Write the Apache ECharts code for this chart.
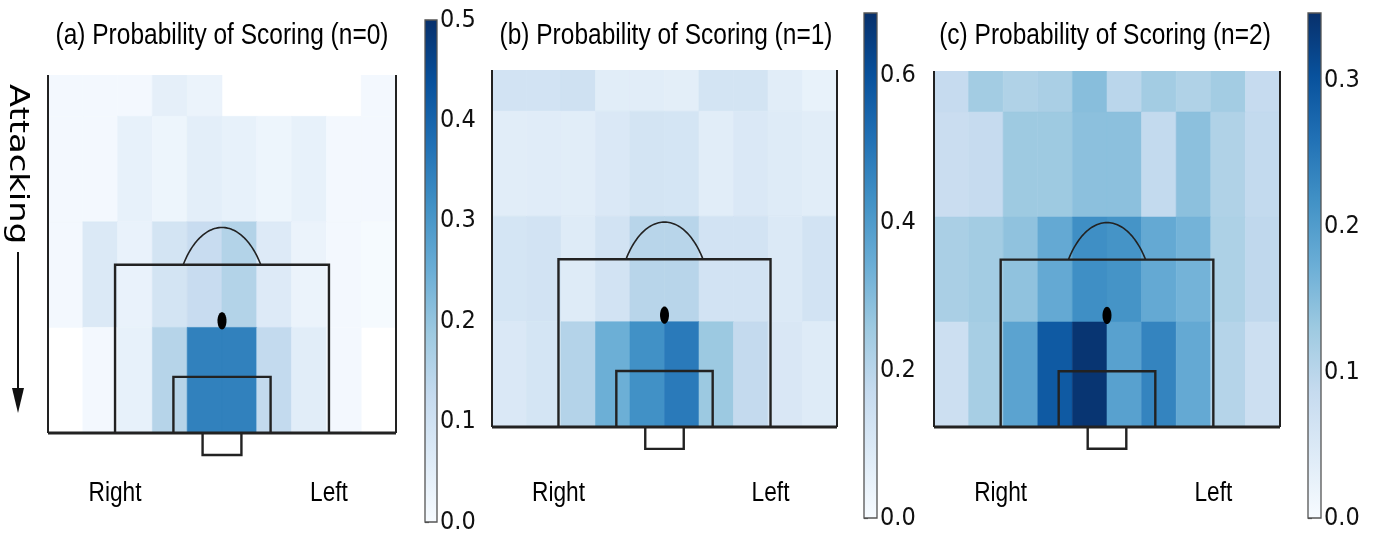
<!DOCTYPE html>
<html>
<head>
<meta charset="utf-8">
<script src="https://cdn.jsdelivr.net/npm/echarts@6/dist/echarts.min.js"></script>
<style>
  html, body { margin: 0; padding: 0; background: #ffffff; }
  #chart { width: 1379px; height: 537px; }
</style>
</head>
<body>
<div id="chart"></div>
<script>
// Probability of scoring per pitch zone (10 columns, right-to-left from the attacker's view).
// Rows run from the far edge (top, only partly visible) down to the goal line; null = no shots.
const PROB_N0 = [
  [0.010, 0.010, 0.010, 0.045, 0.030, null,  null,  null,  null,  0.010],
  [0.010, 0.010, 0.040, 0.025, 0.050, 0.040, 0.025, 0.040, 0.010, 0.010],
  [0.010, 0.070, 0.035, 0.090, 0.120, 0.155, 0.065, 0.030, 0.010, 0.005],
  [null,  0.010, 0.040, 0.150, 0.345, 0.345, 0.130, 0.055, 0.010, null ]
];
const PROB_N1 = [
  [0.130, 0.130, 0.140, 0.075, 0.075, 0.070, 0.125, 0.125, 0.075, 0.050],
  [0.075, 0.080, 0.075, 0.100, 0.125, 0.120, 0.075, 0.100, 0.085, 0.075],
  [0.120, 0.130, 0.085, 0.130, 0.200, 0.200, 0.130, 0.130, 0.095, 0.130],
  [0.100, 0.120, 0.210, 0.340, 0.430, 0.490, 0.260, 0.175, 0.105, 0.085]
];
const PROB_N2 = [
  [0.086, 0.124, 0.110, 0.117, 0.148, 0.100, 0.124, 0.110, 0.124, 0.086],
  [0.080, 0.086, 0.130, 0.130, 0.145, 0.145, 0.090, 0.145, 0.110, 0.090],
  [0.117, 0.124, 0.142, 0.180, 0.220, 0.213, 0.180, 0.165, 0.113, 0.093],
  [0.075, 0.120, 0.190, 0.290, 0.340, 0.193, 0.235, 0.180, 0.105, 0.075]
];
const PANEL_DATA = [PROB_N0, PROB_N1, PROB_N2];

const TITLES = [
  '(a) Probability of Scoring (n=0)',
  '(b) Probability of Scoring (n=1)',
  '(c) Probability of Scoring (n=2)'
];
const SIDE_LABELS = ['Right', 'Left'];
const DIRECTION_LABEL = 'Attacking';

// Colour-bar ranges and tick values
const CBAR_MAX = [0.5, 0.684, 0.346];
const CBAR_TICKS = [
  [0.0, 0.1, 0.2, 0.3, 0.4, 0.5],
  [0.0, 0.2, 0.4, 0.6],
  [0.0, 0.1, 0.2, 0.3]
];

// Sequential "Blues" palette
const BLUES = ['#f7fbff', '#deebf7', '#c6dbef', '#9ecae1', '#6baed6',
               '#4292c6', '#2171b5', '#08519c', '#08306b'];

// Pitch geometry in metres (x measured from the centre line, y from the goal line)
const PITCH = {
  halfW: 32.8, top: 35.1, rowH: 10.35, cols: 10,
  boxHalfW: 20.16, boxD: 16.5,
  sixHalfW: 9.16, sixD: 5.5,
  goalHalfW: 3.66, goalD: 2.15,
  spotY: 11, arcR: 9.15, spotR: 0.85
};
const COL_W = 2 * PITCH.halfW / PITCH.cols;

// Panel layout (pixels)
const PITCH_GRIDS = [
  { left: 48,  top: 75, width: 348, height: 358 },
  { left: 492, top: 70, width: 345, height: 357 },
  { left: 934, top: 71, width: 346, height: 356 }
];
const CBAR_GRIDS = [
  { left: 425,  top: 20, width: 12, height: 502 },
  { left: 864,  top: 13, width: 13, height: 505 },
  { left: 1308, top: 13, width: 13, height: 505 }
];
const TITLE_X = [222, 666, 1105];
const SIDE_LABEL_Y = 494;

const TEXT_FONT = '"Liberation Sans", Arial, sans-serif';
const TICK_FONT = '"DejaVu Sans Condensed", "DejaVu Sans", sans-serif';
const INK = '#222222';

function cellsOf(rows) {
  const out = [];
  const nRows = rows.length;
  rows.forEach((row, ri) => {
    row.forEach((v, c) => {
      if (v !== null) out.push([c, nRows - 1 - ri, v]);
    });
  });
  return out;
}

function renderCell(params, api) {
  const c = api.value(0), r = api.value(1);
  const x0 = -PITCH.halfW + c * COL_W, x1 = x0 + COL_W;
  const y0 = r * PITCH.rowH, y1 = y0 + PITCH.rowH;
  const a = api.coord([x0, y1]), b = api.coord([x1, y0]);
  const color = api.visual('color');
  return {
    type: 'rect',
    shape: { x: a[0], y: a[1], width: b[0] - a[0], height: b[1] - a[1] },
    style: { fill: color, stroke: color, lineWidth: 0.6 }
  };
}

function line(api, pts, width) {
  return {
    type: 'polyline',
    shape: { points: pts.map(p => api.coord(p)) },
    style: { stroke: INK, lineWidth: width, fill: null }
  };
}

function renderPitch(params, api) {
  const P = PITCH;
  const children = [];
  // side lines and goal line
  children.push(line(api, [[-P.halfW, P.top], [-P.halfW, 0]], 2));
  children.push(line(api, [[P.halfW, P.top], [P.halfW, 0]], 2));
  children.push(line(api, [[-P.halfW, 0], [P.halfW, 0]], 3));
  // penalty box, goal area, goal
  children.push(line(api, [[-P.boxHalfW, 0], [-P.boxHalfW, P.boxD], [P.boxHalfW, P.boxD], [P.boxHalfW, 0]], 2.4));
  children.push(line(api, [[-P.sixHalfW, 0], [-P.sixHalfW, P.sixD], [P.sixHalfW, P.sixD], [P.sixHalfW, 0]], 2.4));
  children.push(line(api, [[-P.goalHalfW, 0], [-P.goalHalfW, -P.goalD], [P.goalHalfW, -P.goalD], [P.goalHalfW, 0]], 2.4));
  // penalty arc outside the box
  const th0 = Math.asin((P.boxD - P.spotY) / P.arcR);
  const arc = [];
  for (let i = 0; i <= 60; i++) {
    const th = th0 + (Math.PI - 2 * th0) * i / 60;
    arc.push([P.arcR * Math.cos(th), P.spotY + P.arcR * Math.sin(th)]);
  }
  children.push(line(api, arc, 1.6));
  // penalty spot
  const spot = [];
  for (let i = 0; i < 36; i++) {
    const th = 2 * Math.PI * i / 36;
    spot.push(api.coord([P.spotR * Math.cos(th), P.spotY + P.spotR * Math.sin(th)]));
  }
  children.push({ type: 'polygon', shape: { points: spot }, style: { fill: '#000' } });
  // side names under the penalty-box corners
  [-P.boxHalfW, P.boxHalfW].forEach((x, i) => {
    const p = api.coord([x, 0]);
    children.push({
      type: 'text', x: p[0], y: SIDE_LABEL_Y, scaleX: 0.84,
      style: {
        text: SIDE_LABELS[i], font: '27px ' + TEXT_FONT, fill: '#000',
        align: 'center', verticalAlign: 'middle', textAlign: 'center', textVerticalAlign: 'middle'
      }
    });
  });
  return { type: 'group', children };
}

function renderBar(params, api) {
  const vmax = api.value(1);
  const a = api.coord([0, vmax]), b = api.coord([1, 0]);
  const stops = BLUES.map((c, i) => ({ offset: i / (BLUES.length - 1), color: c }));
  return {
    type: 'rect',
    shape: { x: a[0], y: a[1], width: b[0] - a[0], height: b[1] - a[1] },
    style: {
      fill: new echarts.graphic.LinearGradient(0, 1, 0, 0, stops),
      stroke: '#555', lineWidth: 1.3
    }
  };
}

const grids = [], xAxes = [], yAxes = [], series = [], visualMaps = [];

PITCH_GRIDS.forEach((g, k) => {
  grids.push(Object.assign({ containLabel: false }, g));
  xAxes.push({ type: 'value', gridIndex: k, min: -PITCH.halfW, max: PITCH.halfW, show: false });
  yAxes.push({ type: 'value', gridIndex: k, min: 0, max: PITCH.top, show: false });
});

CBAR_GRIDS.forEach((g, k) => {
  grids.push(Object.assign({ containLabel: false }, g));
  xAxes.push({ type: 'value', gridIndex: 3 + k, min: 0, max: 1, show: false });
  yAxes.push({
    type: 'value', gridIndex: 3 + k, position: 'right', min: 0, max: CBAR_MAX[k],
    axisLine: { show: false }, splitLine: { show: false },
    axisTick: { show: true, length: 4, lineStyle: { color: '#444', width: 1.2 }, customValues: CBAR_TICKS[k] },
    axisLabel: {
      customValues: CBAR_TICKS[k], formatter: v => v.toFixed(1), margin: 3,
      fontFamily: TICK_FONT, fontSize: 25, color: '#111'
    }
  });
});

PANEL_DATA.forEach((rows, k) => {
  series.push({
    type: 'custom', name: TITLES[k], xAxisIndex: k, yAxisIndex: k,
    clip: true, renderItem: renderCell, data: cellsOf(rows),
    encode: { x: 0, y: 1 }, z: 1
  });
  visualMaps.push({
    type: 'continuous', show: false, seriesIndex: k, dimension: 2,
    min: 0, max: CBAR_MAX[k], inRange: { color: BLUES }
  });
});
PANEL_DATA.forEach((rows, k) => {
  series.push({
    type: 'custom', xAxisIndex: k, yAxisIndex: k, clip: false,
    renderItem: renderPitch, data: [[0, 0]], silent: true, z: 3
  });
});
CBAR_MAX.forEach((vmax, k) => {
  series.push({
    type: 'custom', xAxisIndex: 3 + k, yAxisIndex: 3 + k, clip: false,
    renderItem: renderBar, data: [[0, vmax]], silent: true, z: 2
  });
});

const graphics = TITLES.map((t, k) => ({
  type: 'text', x: TITLE_X[k], y: 36, scaleX: 0.845,
  style: {
    text: t, font: '29px ' + TEXT_FONT, fill: '#000',
    align: 'center', verticalAlign: 'middle', textAlign: 'center', textVerticalAlign: 'middle'
  }
}));
// direction of attack indicator
graphics.push({
  type: 'text', x: 17, y: 164, rotation: -Math.PI / 2, scaleX: 1.3,
  style: {
    text: DIRECTION_LABEL, font: '26px "DejaVu Sans", sans-serif', fill: '#000',
    align: 'center', verticalAlign: 'middle', textAlign: 'center', textVerticalAlign: 'middle'
  }
});
graphics.push({ type: 'line', shape: { x1: 18, y1: 252, x2: 18, y2: 392 }, style: { stroke: '#111', lineWidth: 2 } });
graphics.push({ type: 'polygon', shape: { points: [[12, 388], [24, 388], [18, 413]] }, style: { fill: '#111' } });

const chart = echarts.init(document.getElementById('chart'), null, { renderer: 'canvas' });
chart.setOption({
  backgroundColor: '#ffffff',
  animation: false,
  grid: grids,
  xAxis: xAxes,
  yAxis: yAxes,
  visualMap: visualMaps,
  series: series,
  graphic: graphics
});
</script>
</body>
</html>
